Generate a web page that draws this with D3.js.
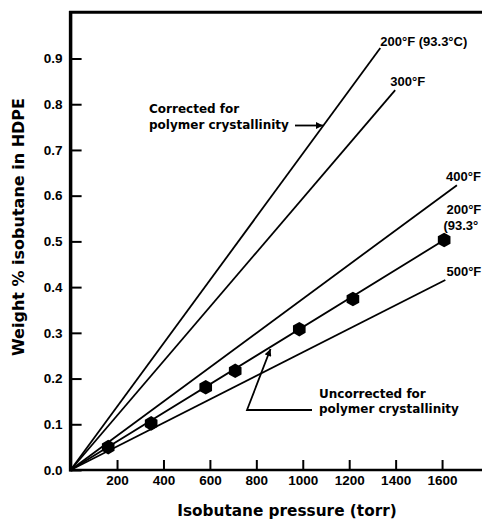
<!DOCTYPE html>
<html>
<head>
<meta charset="utf-8">
<script src="https://cdn.jsdelivr.net/npm/d3@7"></script>
<style>
  html, body { margin: 0; padding: 0; background: #fff; overflow: hidden; }
  svg { display: block; }
</style>
</head>
<body>
<script>
// ---- Data ----
const xTicks = [200, 400, 600, 800, 1000, 1200, 1400, 1600];
const yTicks = [0, 0.1, 0.2, 0.3, 0.4, 0.5, 0.6, 0.7, 0.8, 0.9];

// Uncorrected 200°F measured points
const pointPressure = [162, 347, 582, 709, 985, 1216, 1609];
const pointWeight = [0.050, 0.102, 0.181, 0.217, 0.308, 0.374, 0.503];

// Straight isotherm lines from origin: end pressure and end weight
const lineNames = ["200corr", "300corr", "400", "200uncorr", "500"];
const lineEndPressure = [1334, 1398, 1664, 1609, 1614];
const lineEndWeight = [0.923, 0.831, 0.623, 0.503, 0.4156];

const lineLabels = [
  { text: "200°F (93.3°C)", p: 1334, w: 0.927 },
  { text: "300°F", p: 1377, w: 0.840 },
  { text: "400°F", p: 1617, w: 0.631 },
  { text: "200°F", p: 1619, w: 0.560 },
  { text: "(93.3°", p: 1606, w: 0.524 },
  { text: "500°F", p: 1619, w: 0.424 }
];

// ---- Layout ----
const W = 482, H = 521;
const x = d3.scaleLinear().domain([0, 1772]).range([70.6, 482]);
const y = d3.scaleLinear().domain([0, 0.9]).range([470, 58.5]);

const svg = d3.select("body").append("svg").attr("width", W).attr("height", H);

const tickFont = "'Liberation Sans', Arial, sans-serif";
const annFont = "'DejaVu Sans', sans-serif";

// Frame lines: left axis, top line, bottom axis
svg.append("line").attr("x1", x(0)).attr("x2", x(0)).attr("y1", 11).attr("y2", 471.5)
  .attr("stroke", "#000").attr("stroke-width", 3.5);
svg.append("line").attr("x1", x(0) - 1.5).attr("x2", W).attr("y1", 12.3).attr("y2", 12.3)
  .attr("stroke", "#000").attr("stroke-width", 3);
svg.append("line").attr("x1", x(0) - 1.5).attr("x2", W).attr("y1", y(0)).attr("y2", y(0))
  .attr("stroke", "#000").attr("stroke-width", 2.6);

// Axes
const yAxis = d3.axisLeft(y).tickValues(yTicks).tickFormat(d3.format(".1f"))
  .tickSize(-11).tickSizeOuter(0).tickPadding(8);
const gy = svg.append("g").attr("transform", `translate(${x(0)},0)`).call(yAxis);
gy.select(".domain").remove();
gy.selectAll(".tick line").attr("stroke", "#000").attr("stroke-width", 2);
gy.selectAll(".tick text").attr("font-family", tickFont).attr("font-weight", "bold")
  .attr("font-size", 13.5).attr("fill", "#000");

const xAxis = d3.axisBottom(x).tickValues(xTicks).tickFormat(d3.format("d"))
  .tickSize(-10).tickSizeOuter(0).tickPadding(5);
const gx = svg.append("g").attr("transform", `translate(0,${y(0)})`).call(xAxis);
gx.select(".domain").remove();
gx.selectAll(".tick line").attr("stroke", "#000").attr("stroke-width", 2);
gx.selectAll(".tick text").attr("font-family", tickFont).attr("font-weight", "bold")
  .attr("font-size", 13.5).attr("fill", "#000");

// Axis titles
svg.append("text").attr("x", 287).attr("y", 516)
  .attr("text-anchor", "middle").attr("font-family", annFont).attr("font-weight", "bold")
  .attr("font-size", 15.3).attr("fill", "#000").text("Isobutane pressure (torr)");
svg.append("text").attr("transform", "translate(18,227) rotate(-90)")
  .attr("text-anchor", "middle").attr("dominant-baseline", "central")
  .attr("font-family", annFont).attr("font-weight", "bold")
  .attr("font-size", 16).attr("fill", "#000").text("Weight % isobutane in HDPE");

// Lines
const lineGen = d3.line().x(d => x(d[0])).y(d => y(d[1]));
const lines = lineNames.map((n, i) => ({ name: n, pts: [[0, 0], [lineEndPressure[i], lineEndWeight[i]]] }));
svg.append("g").selectAll("path").data(lines).join("path")
  .attr("d", d => lineGen(d.pts))
  .attr("fill", "none").attr("stroke", "#000").attr("stroke-width", 1.8);

// Hexagon markers
const hexR = 7.3;
const hexPts = d3.range(6).map(k => {
  const a = Math.PI / 6 + k * Math.PI / 3;
  return [hexR * Math.cos(a), hexR * Math.sin(a)];
});
const hexPath = d3.line()(hexPts) + "Z";
svg.append("g").selectAll("path").data(pointPressure.map((p, i) => [p, pointWeight[i]])).join("path")
  .attr("d", hexPath)
  .attr("transform", d => `translate(${x(d[0])},${y(d[1])})`)
  .attr("fill", "#000");

// Line labels
svg.append("g").selectAll("text").data(lineLabels).join("text")
  .attr("x", d => x(d.p)).attr("y", d => y(d.w))
  .attr("font-family", tickFont).attr("font-weight", "bold").attr("font-size", 13)
  .attr("fill", "#000").text(d => d.text);

// Arrowhead marker
const defs = svg.append("defs");
defs.append("marker").attr("id", "arr").attr("viewBox", "0 0 10 10")
  .attr("refX", 10).attr("refY", 5).attr("markerWidth", 9).attr("markerHeight", 7)
  .attr("markerUnits", "userSpaceOnUse").attr("orient", "auto")
  .append("path").attr("d", "M0,0L10,5L0,10Z").attr("fill", "#000");

// Annotation: corrected
const ann = svg.append("g").attr("font-family", annFont).attr("font-weight", "bold")
  .attr("font-size", 12).attr("fill", "#000");
ann.append("text").attr("x", 149).attr("y", 113).text("Corrected for");
ann.append("text").attr("x", 149).attr("y", 129).text("polymer crystallinity");
svg.append("line").attr("x1", 295).attr("y1", 125.5).attr("x2", 323).attr("y2", 125.5)
  .attr("stroke", "#000").attr("stroke-width", 1.8).attr("marker-end", "url(#arr)");

// Annotation: uncorrected
ann.append("text").attr("x", 319).attr("y", 398).text("Uncorrected for");
ann.append("text").attr("x", 319).attr("y", 413).text("polymer crystallinity");
svg.append("path").attr("d", "M312,410L247,410L270.5,349")
  .attr("fill", "none").attr("stroke", "#000").attr("stroke-width", 1.8)
  .attr("marker-end", "url(#arr)");
</script>
</body>
</html>
